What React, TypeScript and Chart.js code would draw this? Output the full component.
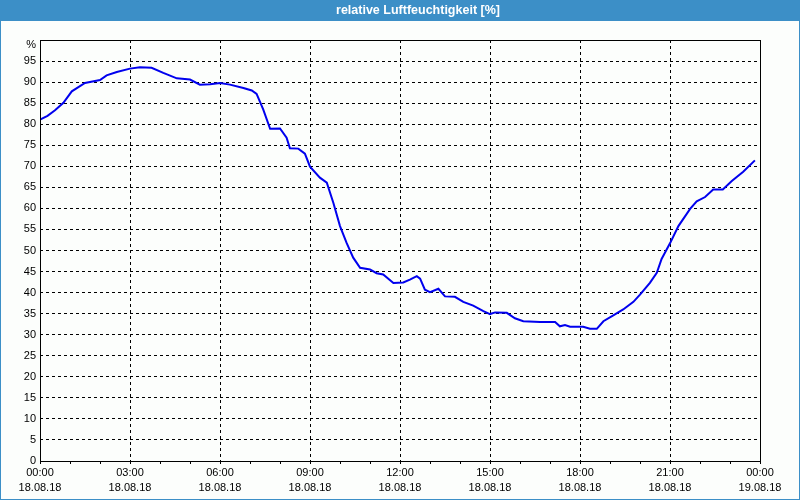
import React, { useEffect, useRef } from 'react';
import { Chart, registerables } from 'chart.js';

Chart.register(...registerables);

const chartTitle = 'relative Luftfeuchtigkeit [%]';

// hours since 18.08.18 00:00
const hours = [
  0.0, 0.25, 0.5, 0.78, 1.06, 1.5, 2.0, 2.22, 2.56, 3.0, 3.33, 3.72, 4.11, 4.56, 5.0,
  5.33, 5.67, 6.0, 6.33, 6.78, 7.06, 7.22, 7.44, 7.67, 8.0, 8.22, 8.33, 8.61, 8.83,
  9.0, 9.33, 9.56, 9.78, 10.0, 10.22, 10.44, 10.67, 11.0, 11.22, 11.44, 11.78, 12.11,
  12.33, 12.56, 12.67, 12.83, 13.0, 13.28, 13.5, 13.83, 14.11, 14.44, 14.78, 15.0,
  15.17, 15.56, 15.83, 16.11, 16.67, 17.17, 17.33, 17.5, 17.67, 18.11, 18.33, 18.56,
  18.78, 19.11, 19.44, 19.78, 20.0, 20.33, 20.56, 20.72, 21.0, 21.28, 21.67, 21.89,
  22.17, 22.44, 22.76, 23.06, 23.44, 23.83,
];

const humidity = [
  81.1, 82.0, 83.3, 85.1, 87.8, 89.8, 90.5, 91.6, 92.4, 93.2, 93.5, 93.4, 92.2, 90.9, 90.6,
  89.4, 89.5, 89.8, 89.4, 88.6, 88.0, 87.2, 83.5, 78.9, 79.0, 76.8, 74.3, 74.2, 73.0,
  69.9, 67.3, 66.1, 61.3, 55.8, 51.8, 48.3, 45.9, 45.5, 44.6, 44.3, 42.3, 42.4,
  43.1, 43.9, 43.3, 40.7, 40.1, 40.9, 39.1, 39.0, 37.8, 36.9, 35.6, 34.9,
  35.3, 35.2, 33.9, 33.2, 33.0, 33.0, 32.0, 32.3, 31.9, 31.9, 31.4, 31.4,
  33.2, 34.6, 36.0, 37.8, 39.5, 42.3, 44.7, 48.0, 51.7, 55.8, 59.9, 61.7,
  62.7, 64.5, 64.5, 66.5, 68.7, 71.4,
];

const xTickTimes = ['00:00', '03:00', '06:00', '09:00', '12:00', '15:00', '18:00', '21:00', '00:00'];
const xTickDates = ['18.08.18', '18.08.18', '18.08.18', '18.08.18', '18.08.18', '18.08.18', '18.08.18', '18.08.18', '19.08.18'];
const yUnitLabel = '%';

const FONT = 'Liberation Sans, Arial, sans-serif';
const BLUE = '#3c8fc7';

export default function App() {
  const ref = useRef<HTMLCanvasElement>(null);

  useEffect(() => {
    document.body.style.margin = '0';
    const canvas = ref.current;
    if (!canvas) return;

    const framePlugin = {
      id: 'frame',
      beforeDraw(chart: any) {
        const { ctx, width, height } = chart;
        ctx.save();
        ctx.fillStyle = '#fcfefc';
        ctx.fillRect(0, 0, width, height);
        ctx.fillStyle = BLUE;
        ctx.fillRect(0, 0, width, 21);
        ctx.strokeStyle = BLUE;
        ctx.lineWidth = 1;
        ctx.strokeRect(0.5, 0.5, width - 1, height - 1);
        ctx.fillStyle = '#ffffff';
        ctx.font = `bold 12.5px ${FONT}`;
        ctx.textAlign = 'center';
        ctx.textBaseline = 'middle';
        ctx.fillText(chartTitle, 418, 11);
        ctx.restore();
      },
      afterDraw(chart: any) {
        const { ctx, chartArea } = chart;
        ctx.save();
        ctx.strokeStyle = '#000';
        ctx.lineWidth = 1;
        ctx.setLineDash([]);
        ctx.strokeRect(
          Math.round(chartArea.left) + 0.5,
          Math.round(chartArea.top) + 0.5,
          Math.round(chartArea.right - chartArea.left),
          Math.round(chartArea.bottom - chartArea.top)
        );
        ctx.fillStyle = '#000';
        ctx.font = `11px ${FONT}`;
        ctx.textAlign = 'right';
        ctx.textBaseline = 'middle';
        ctx.fillText(yUnitLabel, chartArea.left - 4, chartArea.top + 5);
        ctx.restore();
      },
    };

    const chart = new Chart(canvas, {
      type: 'line',
      data: {
        datasets: [
          {
            data: hours.map((h, i) => ({ x: h, y: humidity[i] })),
            borderColor: '#0000ee',
            borderWidth: 2,
            pointRadius: 0,
            tension: 0,
            fill: false,
          },
        ],
      },
      options: {
        animation: false,
        responsive: false,
        devicePixelRatio: 1,
        layout: { padding: { left: 0, right: 40, top: 40, bottom: 0 } },
        plugins: {
          legend: { display: false },
          tooltip: { enabled: false },
          title: { display: false },
        },
        scales: {
          x: {
            type: 'linear',
            min: 0,
            max: 24,
            afterFit: (s: any) => {
              s.height = 39;
            },
            ticks: {
              stepSize: 1,
              autoSkip: false,
              maxRotation: 0,
              minRotation: 0,
              color: '#000',
              padding: 2,
              font: { family: FONT, size: 11, lineHeight: 1.35 },
              callback: (v: any) => {
                const i = Number(v) / 3;
                return Number.isInteger(i) ? [xTickTimes[i], xTickDates[i]] : '';
              },
            },
            grid: {
              color: (c: any) =>
                c.tick && c.tick.value % 3 === 0 ? '#000' : 'rgba(0,0,0,0)',
              tickColor: '#000',
              tickLength: 3,
              lineWidth: 1,
              tickBorderDash: [],
            },
            border: { display: false, dash: [3, 3] },
          },
          y: {
            min: 0,
            max: 100,
            afterFit: (s: any) => {
              s.width = 40;
            },
            ticks: {
              stepSize: 5,
              color: '#000',
              padding: 4,
              font: { family: FONT, size: 11 },
              callback: (v: any) => (Number(v) === 100 ? '' : String(v)),
            },
            grid: {
              color: (c: any) =>
                c.tick && (c.tick.value === 100 || c.tick.value === 0) ? 'rgba(0,0,0,0)' : '#000',
              drawTicks: false,
              lineWidth: 1,
            },
            border: { display: false, dash: [3, 3] },
          },
        },
      },
      plugins: [framePlugin],
    } as any);

    return () => chart.destroy();
  }, []);

  return (
    <div style={{ position: 'absolute', left: 0, top: 0, width: 800, height: 500 }}>
      <canvas ref={ref} width={800} height={500} />
    </div>
  );
}
